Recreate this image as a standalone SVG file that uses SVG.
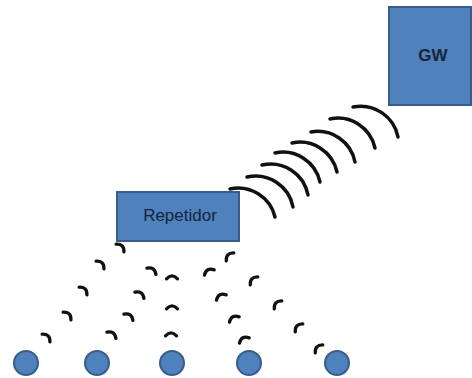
<svg xmlns="http://www.w3.org/2000/svg" xmlns:xlink="http://www.w3.org/1999/xlink" width="472" height="378" viewBox="0 0 472 378">
  <style>
    .box { fill: #4F81BD; stroke: #385D8A; stroke-width: 2; }
    .node { fill: #4F81BD; stroke: #385D8A; stroke-width: 2; }
    .label { font-family: "Liberation Sans", Arial, sans-serif; fill: #17243a; text-anchor: middle; }
    .wave { fill: none; stroke: #111; stroke-width: 3.5; stroke-linecap: round; }
    .tick { fill: none; stroke: #111; stroke-width: 3.3; stroke-linecap: round; }
  </style>
  <defs>
    <!-- short wave fragment, bulging toward -y before rotation -->
    <path id="tick" class="tick" d="M-5.5,2.8 Q0,-3.2 5.5,2.8"/>
  </defs>

  <rect width="472" height="378" fill="#ffffff"/>

  <!-- connectors: radio waves -->
  <g id="connectors">
    <!-- repeater to gateway -->
    <g id="link-repeater-gw">
      <path class="wave" d="M230,189 A38,38 0 0 1 275,217"/>
      <path class="wave" d="M247,177 A38,38 0 0 1 293,207"/>
      <path class="wave" d="M262,165 A38,38 0 0 1 308,195"/>
      <path class="wave" d="M275,153 A38,38 0 0 1 320,182"/>
      <path class="wave" d="M292,143 A38,38 0 0 1 337,172"/>
      <path class="wave" d="M311,132 A38,38 0 0 1 355,162"/>
      <path class="wave" d="M330,119 A38,38 0 0 1 375,148"/>
      <path class="wave" d="M353,107 A38,38 0 0 1 398,137"/>
    </g>
    <!-- sensor 1 to repeater -->
    <g id="link-s1">
      <use xlink:href="#tick" transform="translate(122,246) rotate(45)"/>
      <use xlink:href="#tick" transform="translate(102,263) rotate(45)"/>
      <use xlink:href="#tick" transform="translate(85,289) rotate(45)"/>
      <use xlink:href="#tick" transform="translate(69,314) rotate(45)"/>
      <use xlink:href="#tick" transform="translate(48,336) rotate(45)"/>
    </g>
    <!-- sensor 2 to repeater -->
    <g id="link-s2">
      <use xlink:href="#tick" transform="translate(153,269) rotate(35)"/>
      <use xlink:href="#tick" transform="translate(141,293) rotate(35)"/>
      <use xlink:href="#tick" transform="translate(130,315) rotate(35)"/>
      <use xlink:href="#tick" transform="translate(113,333) rotate(35)"/>
    </g>
    <!-- sensor 3 to repeater -->
    <g id="link-s3">
      <use xlink:href="#tick" transform="translate(172,276)"/>
      <use xlink:href="#tick" transform="translate(172,306)"/>
      <use xlink:href="#tick" transform="translate(171,333)"/>
    </g>
    <!-- sensor 4 to repeater -->
    <g id="link-s4">
      <use xlink:href="#tick" transform="translate(208,270) rotate(-28)"/>
      <use xlink:href="#tick" transform="translate(220,295) rotate(-28)"/>
      <use xlink:href="#tick" transform="translate(233,317) rotate(-28)"/>
      <use xlink:href="#tick" transform="translate(243,338) rotate(-28)"/>
    </g>
    <!-- sensor 5 to repeater -->
    <g id="link-s5">
      <use xlink:href="#tick" transform="translate(228,255) rotate(-47)"/>
      <use xlink:href="#tick" transform="translate(252,279) rotate(-47)"/>
      <use xlink:href="#tick" transform="translate(276,303) rotate(-47)"/>
      <use xlink:href="#tick" transform="translate(297,326) rotate(-47)"/>
      <use xlink:href="#tick" transform="translate(317,347) rotate(-47)"/>
    </g>
  </g>

  <!-- gateway -->
  <g id="gw">
    <rect class="box" x="389" y="7" width="82" height="98"/>
    <text class="label" x="433" y="61" font-size="17" font-weight="bold">GW</text>
  </g>

  <!-- repeater -->
  <g id="repetidor">
    <rect class="box" x="117" y="192" width="122" height="49"/>
    <text class="label" x="180" y="221" font-size="17">Repetidor</text>
  </g>

  <!-- sensor nodes -->
  <g id="s1"><circle class="node" cx="26" cy="363" r="12"/></g>
  <g id="s2"><circle class="node" cx="97" cy="363" r="12"/></g>
  <g id="s3"><circle class="node" cx="172" cy="363" r="12"/></g>
  <g id="s4"><circle class="node" cx="249" cy="363" r="12"/></g>
  <g id="s5"><circle class="node" cx="337" cy="363" r="12"/></g>
</svg>
